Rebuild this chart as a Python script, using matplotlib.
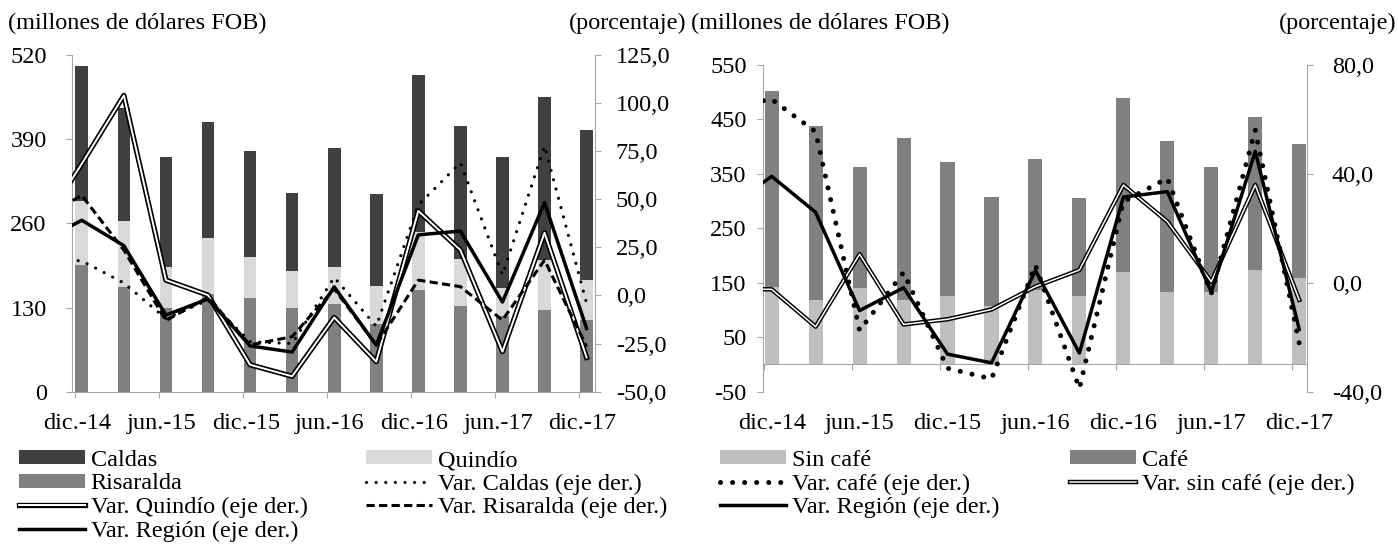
import matplotlib
matplotlib.use('Agg')
import matplotlib.pyplot as plt
import matplotlib.transforms as mtransforms
import matplotlib.patheffects as pe
from matplotlib.patches import Patch
import numpy as np

# ---------------- data ----------------
# bar quarters (dic.-14 ... dic.-17)
bar_quarters = ['dic.-14', 'mar.-15', 'jun.-15', 'sep.-15', 'dic.-15', 'mar.-16', 'jun.-16',
                'sep.-16', 'dic.-16', 'mar.-17', 'jun.-17', 'sep.-17', 'dic.-17']
# line quarters include the previous quarter (sep.-14), clipped by the axis
line_quarters = ['sep.-14'] + bar_quarters
tick_labels = ['dic.-14', 'jun.-15', 'dic.-15', 'jun.-16', 'dic.-16', 'jun.-17', 'dic.-17']

# left panel: exports by department (millones de dólares FOB)
risaralda = [196, 162, 130, 151, 145, 130, 135, 105, 157, 133, 117, 126, 111]
quindio = [99, 101, 63, 87, 63, 57, 58, 58, 90, 72, 43, 77, 61]
caldas = [208, 175, 169, 178, 163, 120, 184, 142, 242, 205, 202, 252, 232]

# left panel variations (porcentaje)
var_caldas = [19.0, 18.0, 6.5, -12.0, -2.4, -24.0, -25.0, 9.4, -16.0, 47.0, 69.0, 10.6, 77.7, -4.1]
var_quindio = [34.0, 68.5, 104.0, 8.0, 0.2, -36.0, -42.0, -11.4, -34.4, 44.0, 23.6, -29.2, 32.6, -32.2]
var_risaralda = [40.0, 52.0, 23.6, -13.0, -1.0, -25.7, -21.4, 3.5, -25.8, 8.0, 4.6, -12.8, 18.4, -26.6]
var_region = [27.5, 39.1, 25.9, -10.2, -1.8, -26.2, -29.4, 4.5, -25.8, 31.5, 33.5, -3.4, 48.3, -17.1]

# right panel: coffee / non-coffee exports
sin_cafe = [143, 118, 141, 118, 126, 108, 137, 126, 170, 134, 134, 173, 158]
cafe = [360, 320, 221, 298, 245, 199, 240, 179, 319, 276, 228, 282, 246]
var_cafe = [64.7, 67.4, 55.5, -17.5, 3.8, -31.4, -35.3, 6.5, -38.8, 29.8, 38.4, -3.9, 56.1, -22.2]
var_sin_cafe = [-2.2, -2.4, -16.1, 10.5, -15.3, -13.4, -9.8, -1.4, 4.7, 35.9, 22.5, 0.4, 35.9, -6.3]

# ---------------- style ----------------
plt.rcParams['font.family'] = ['Liberation Serif', 'DejaVu Serif']
FS = 17.5
SPINE = '#A6A6A6'
C_CALDAS, C_QUINDIO, C_RIS = '#404040', '#D9D9D9', '#808080'
C_SIN, C_CAFE = '#BFBFBF', '#808080'

W, H = 1398, 556
fig = plt.figure(figsize=(W / 100, H / 100), dpi=100)


def rect(x0, y0, x1, y1):
    return [x0 / W, 1 - y1 / H, (x1 - x0) / W, (y1 - y0) / H]


def fmt(v):
    return ('%.1f' % v).replace('.', ',')


xb = np.arange(len(bar_quarters))
xl = np.arange(len(line_quarters)) - 1
tick_pos = [bar_quarters.index(t) - 0.17 for t in tick_labels]

dbl_q = [pe.Stroke(linewidth=3.8, foreground='black'), pe.Normal()]
dbl_s = [pe.Stroke(linewidth=3.2, foreground='black'), pe.Normal()]

# ================= LEFT PANEL =================
axL = fig.add_axes(rect(71.7, 55, 595, 391.7))
ris = np.array(risaralda)
qui = np.array(quindio)
axL.bar(xb, ris, width=0.3, color=C_RIS, zorder=2)
axL.bar(xb, qui, width=0.3, bottom=ris, color=C_QUINDIO, zorder=2)
axL.bar(xb, caldas, width=0.3, bottom=ris + qui, color=C_CALDAS, zorder=2)
axL.set_xlim(-0.24, 12.2)
axL.set_ylim(0, 520)
axL.set_yticks([0, 130, 260, 390, 520])
axL.set_yticklabels(['0', '130', '260', '390', '520'])
axL.set_xticks(tick_pos)
axL.set_xticklabels([])
trL = mtransforms.blended_transform_factory(axL.transData, axL.transAxes)
for t in tick_labels:
    axL.text(bar_quarters.index(t) - 0.1, -0.094, t, transform=trL, ha='center',
             va='center', fontsize=FS)

axL2 = axL.twinx()
axL2.set_ylim(-50, 125)
rt = [-50, -25, 0, 25, 50, 75, 100, 125]
axL2.set_yticks(rt)
axL2.set_yticklabels([fmt(v) for v in rt])
lc, = axL2.plot(xl, var_caldas, color='black', lw=2.3, linestyle=(0, (0.01, 3.0)),
                dash_capstyle='round', zorder=3)
lq, = axL2.plot(xl, var_quindio, color='white', lw=1.4, path_effects=dbl_q, zorder=3)
lr, = axL2.plot(xl, var_risaralda, color='black', lw=2.2, linestyle=(0, (2.7, 1.4)), zorder=3)
lg, = axL2.plot(xl, var_region, color='black', lw=2.5, zorder=4)

for a in (axL, axL2):
    for s in a.spines.values():
        s.set_color(SPINE)
    a.spines['top'].set_visible(False)
    a.tick_params(colors=SPINE, labelcolor='black', labelsize=FS, length=4, direction='out')
axL.spines['right'].set_visible(False)
axL2.spines['left'].set_visible(False)
axL2.spines['bottom'].set_visible(False)
axL.tick_params(axis='y', pad=14)
axL2.tick_params(axis='y', pad=11)

# ================= RIGHT PANEL =================
axR = fig.add_axes(rect(763.3, 65, 1306.7, 391.7))
axR.bar(xb, sin_cafe, width=0.32, color=C_SIN, zorder=2)
axR.bar(xb, cafe, width=0.32, bottom=sin_cafe, color=C_CAFE, zorder=2)
axR.set_xlim(-0.19, 12.17)
axR.set_ylim(-50, 550)
lt = [-50, 50, 150, 250, 350, 450, 550]
axR.set_yticks(lt)
axR.set_yticklabels([str(v) for v in lt])
axR.spines['bottom'].set_position(('data', 0))
axR.set_xticks(tick_pos)
axR.set_xticklabels([])
trR = mtransforms.blended_transform_factory(axR.transData, axR.transAxes)
for t in tick_labels:
    axR.text(bar_quarters.index(t), -0.097, t, transform=trR, ha='center', va='center',
             fontsize=FS)

axR2 = axR.twinx()
axR2.set_ylim(-40, 80)
rt2 = [-40, 0, 40, 80]
axR2.set_yticks(rt2)
axR2.set_yticklabels([fmt(v) for v in rt2])
lcafe, = axR2.plot(xl, var_cafe, color='black', lw=3.6, linestyle=(0, (0.01, 2.4)),
                   dash_capstyle='round', zorder=3)
lsin, = axR2.plot(xl, var_sin_cafe, color='white', lw=1.1, path_effects=dbl_s, zorder=3)
lreg2, = axR2.plot(xl, var_region, color='black', lw=2.5, zorder=4)

for a in (axR, axR2):
    for s in a.spines.values():
        s.set_color(SPINE)
    a.spines['top'].set_visible(False)
    a.tick_params(colors=SPINE, labelcolor='black', labelsize=FS, length=4, direction='out')
axR.spines['right'].set_visible(False)
axR2.spines['left'].set_visible(False)
axR2.spines['bottom'].set_visible(False)
axR.tick_params(axis='y', pad=8)
axR2.tick_params(axis='y', pad=14)

# ================= headers =================
fig.text(8 / W, 1 - 23 / H, '(millones de dólares FOB)', fontsize=FS, va='center', ha='left')
fig.text(687 / W, 1 - 23 / H, '(porcentaje)', fontsize=FS, va='center', ha='right')
fig.text(691 / W, 1 - 23 / H, '(millones de dólares FOB)', fontsize=FS, va='center', ha='left')
fig.text(1396 / W, 1 - 23 / H, '(porcentaje)', fontsize=FS, va='center', ha='right')

# ================= legends =================
def add_legend(handles, labels, x, y):
    leg = fig.legend(handles, labels, loc='upper left', bbox_to_anchor=(x / W, 1 - y / H),
                     frameon=False, borderpad=0, borderaxespad=0, fontsize=FS,
                     handlelength=2.7, handletextpad=0.25, labelspacing=0.1,
                     handleheight=0.5)
    return leg


p_caldas = Patch(facecolor=C_CALDAS, edgecolor='none')
p_quindio = Patch(facecolor=C_QUINDIO, edgecolor='none')
p_ris = Patch(facecolor=C_RIS, edgecolor='none')
p_sin = Patch(facecolor=C_SIN, edgecolor='none')
p_cafe = Patch(facecolor=C_CAFE, edgecolor='none')

add_legend([p_caldas, p_ris, lq, lg],
           ['Caldas', 'Risaralda', 'Var. Quindío (eje der.)', 'Var. Región (eje der.)'], 19, 450)
add_legend([p_quindio, lc, lr],
           ['Quindío', 'Var. Caldas (eje der.)', 'Var. Risaralda (eje der.)'], 366, 450)
add_legend([p_sin, lcafe, lreg2],
           ['Sin café', 'Var. café (eje der.)', 'Var. Región (eje der.)'], 720, 450)
add_legend([p_cafe, lsin],
           ['Café', 'Var. sin café (eje der.)'], 1070, 450)

fig.savefig('out.png', dpi=100)
